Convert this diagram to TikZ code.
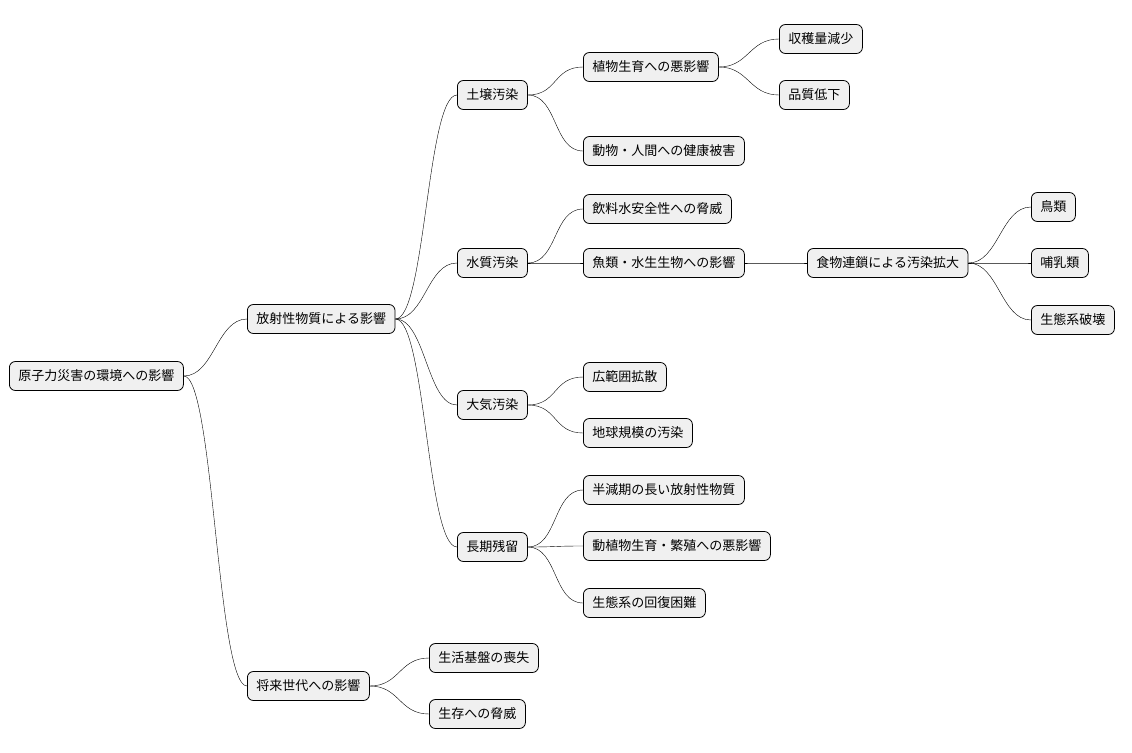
\documentclass[tikz,border=0pt]{standalone}
\usepackage{fontspec}
\setmainfont{Noto Sans CJK JP}
\begin{document}
\begin{tikzpicture}[x=1pt,y=-1pt,
    topic/.style={draw,thick,rounded corners=6pt,fill=black!6,anchor=west,
      minimum height=29pt,inner xsep=9pt,font=\fontsize{13}{15}\selectfont},
    link/.style={thin}]
  \useasboundingbox (0,0) rectangle (1132,752);
  \foreach \id/\x/\y/\txt in {
      root/9/376/原子力災害の環境への影響,
      rad/247/319/放射性物質による影響,
      fut/247/686/将来世代への影響,
      soil/457/95/土壌汚染,
      water/457/263/水質汚染,
      air/457/405/大気汚染,
      long/457/547/長期残留,
      plant/583/67/植物生育への悪影響,
      health/583/151/動物・人間への健康被害,
      yield/779/39/収穫量減少,
      qual/779/95/品質低下,
      drink/583/209/飲料水安全性への脅威,
      fish/583/263/魚類・水生生物への影響,
      chain/807/263/食物連鎖による汚染拡大,
      bird/1031/207/鳥類,
      mammal/1031/263/哺乳類,
      eco/1031/320/生態系破壊,
      wide/583/377/広範囲拡散,
      globe/583/433/地球規模の汚染,
      half/583/490/半減期の長い放射性物質,
      breed/583/546/動植物生育・繁殖への悪影響,
      recov/583/603/生態系の回復困難,
      base/429/658/生活基盤の喪失,
      surv/429/714/生存への脅威}
    \node[topic] (\id) at (\x,\y) {\txt};
  % connectors
  \foreach \a/\b in {root/rad,root/fut,rad/soil,rad/water,rad/air,rad/long,
      soil/plant,soil/health,plant/yield,plant/qual,water/drink,water/fish,
      fish/chain,chain/bird,chain/mammal,chain/eco,air/wide,air/globe,
      long/half,long/breed,long/recov,fut/base,fut/surv}
    \draw[link] (\a.east) .. controls +(30,0) and +(-30,0) .. (\b.west);
\end{tikzpicture}
\end{document}
